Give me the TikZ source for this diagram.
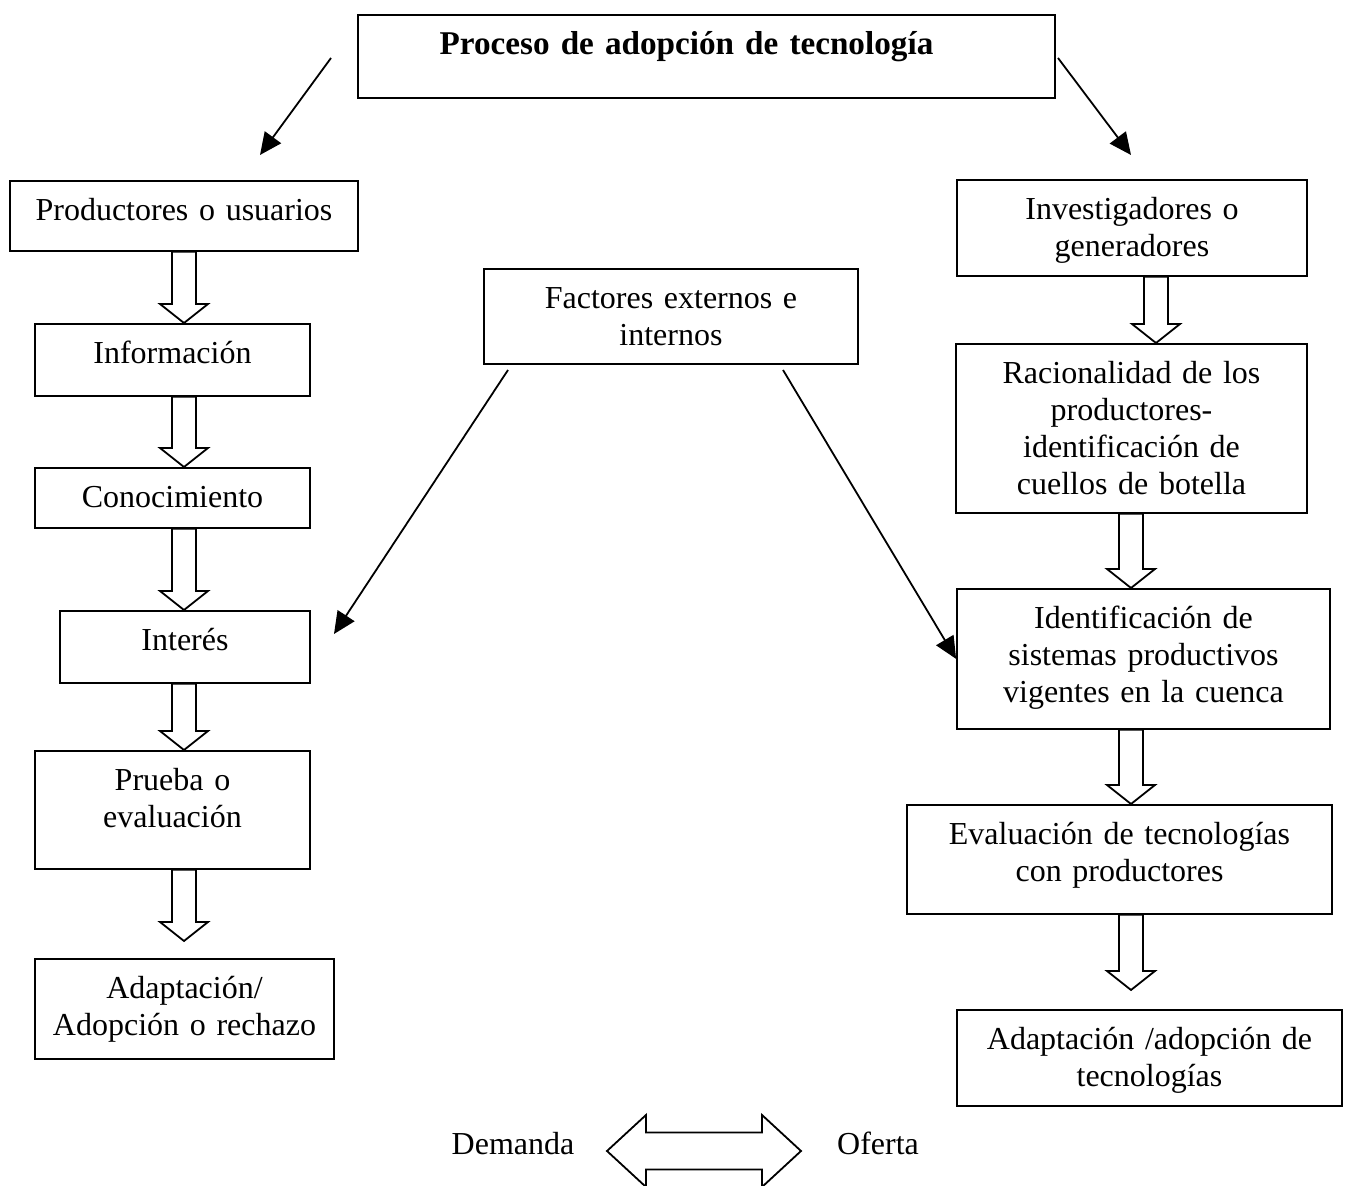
\documentclass[tikz,border=0pt]{standalone}
\usepackage{fontspec}
\setmainfont{Liberation Serif}
\usetikzlibrary{arrows.meta,calc}
\tikzset{
  box/.style={draw, line width=0.9pt, inner sep=0pt, align=center, text height=20pt,
    anchor=north, font=\fontsize{16}{18.4}\selectfont},
  harr/.style={draw, line width=0.9pt, line join=miter},
  diag/.style={line width=0.9pt, -{Triangle[length=11pt,width=10pt]}},
  lbl/.style={font=\fontsize{16}{18.4}\selectfont, anchor=base, inner sep=0pt},
}
\newcommand\hollowarr[2]{%
  \draw[harr] let \p1=(#1), \p2=(#2) in
    (\x1-6pt,\y1) -- (\x1-6pt,\y2+9.5pt) -- (\x1-12pt,\y2+9.5pt) -- (\x1,\y2)
    -- (\x1+12pt,\y2+9.5pt) -- (\x1+6pt,\y2+9.5pt) -- (\x1+6pt,\y1) -- cycle;}
\begin{document}
\begin{tikzpicture}[x=0.5pt,y=-0.5pt]
\useasboundingbox (0,0) rectangle (1345,1186);

% title
\node[box, minimum width=348.5pt, text width=348.5pt, text depth=21.5pt,
  font=\bfseries\fontsize{16.6}{19}\selectfont] (title) at (706.5,14)
  {Proceso de adopción de tecnología\hspace{20pt}\mbox{}};

% left column
\node[box, text width=174pt,   text depth=15pt] (prod)   at (184,180)   {Productores o usuarios};
\node[box, text width=137.5pt, text depth=16pt] (info)   at (172.5,323) {Información};
\node[box, text width=137.5pt, text depth=10pt] (conoc)  at (172.5,467) {Conocimiento};
\node[box, text width=125pt,   text depth=16pt] (inter)  at (185,610)   {Interés};
\node[box, text width=137.5pt, text depth=39pt] (prueba) at (172.5,750) {Prueba o\\evaluación};
\node[box, text width=149.5pt, text depth=30pt] (adapl)  at (184.5,958) {Adaptación/\\Adopción o rechazo};

% middle
\node[box, text width=187pt, text depth=27.5pt] (fact) at (671,268) {Factores externos e\\internos};

% right column
\node[box, text width=175pt,   text depth=28pt]   (inv)   at (1132,179)   {Investigadores o\\generadores};
\node[box, text width=175.5pt, text depth=64.5pt] (rac)   at (1131.5,343) {Racionalidad de los\\productores-\\identificación de\\cuellos de botella};
\node[box, text width=186.5pt, text depth=50pt]   (ident) at (1143.5,588) {Identificación de\\sistemas productivos\\vigentes en la cuenca};
\node[box, text width=212.5pt, text depth=34.5pt] (eval)  at (1119.5,804) {Evaluación de tecnologías\\con productores};
\node[box, text width=192.5pt, text depth=28pt]   (adapr) at (1149.5,1009) {Adaptación /adopción de\\tecnologías};

% reference coordinates for hollow arrows
\coordinate (Lx) at (184,0);
\coordinate (Rx1) at (1156,0);
\coordinate (Rx) at (1131,0);
\coordinate (t5) at (184,941);
\coordinate (t9) at (1131,990);

\hollowarr{prod.south -| Lx}{info.north -| Lx}
\hollowarr{info.south -| Lx}{conoc.north -| Lx}
\hollowarr{conoc.south -| Lx}{inter.north -| Lx}
\hollowarr{inter.south -| Lx}{prueba.north -| Lx}
\hollowarr{prueba.south -| Lx}{t5}
\hollowarr{inv.south -| Rx1}{rac.north -| Rx1}
\hollowarr{rac.south -| Rx}{ident.north -| Rx}
\hollowarr{ident.south -| Rx}{eval.north -| Rx}
\hollowarr{eval.south -| Rx}{t9}

% diagonal arrows
\coordinate (d1s) at (331,58);   \coordinate (d1e) at (260,155);
\coordinate (d2s) at (1058,58);  \coordinate (d2e) at (1131,155);
\coordinate (d3s) at (508,370);  \coordinate (d3e) at (334,634);
\coordinate (d4s) at (783,370);
\draw[diag] (d1s) -- (d1e);
\draw[diag] (d2s) -- (d2e);
\draw[diag] (d3s) -- (d3e);
\draw[diag] (d4s) -- (ident.west);

% bottom
\node[lbl] (dem) at (513,1154) {Demanda};
\node[lbl] (ofe) at (878,1154) {Oferta};
\coordinate (dal) at (607,1151);
\coordinate (dar) at (801,1151);
\draw[harr] let \p1=(dal), \p2=(dar) in
  (\p1) -- (\x1+19.5pt,\y1+18pt) -- (\x1+19.5pt,\y1+9.25pt) -- (\x2-19.5pt,\y1+9.25pt)
  -- (\x2-19.5pt,\y1+18pt) -- (\p2) -- (\x2-19.5pt,\y1-18pt) -- (\x2-19.5pt,\y1-9.25pt)
  -- (\x1+19.5pt,\y1-9.25pt) -- (\x1+19.5pt,\y1-18pt) -- cycle;
\end{tikzpicture}
\end{document}
